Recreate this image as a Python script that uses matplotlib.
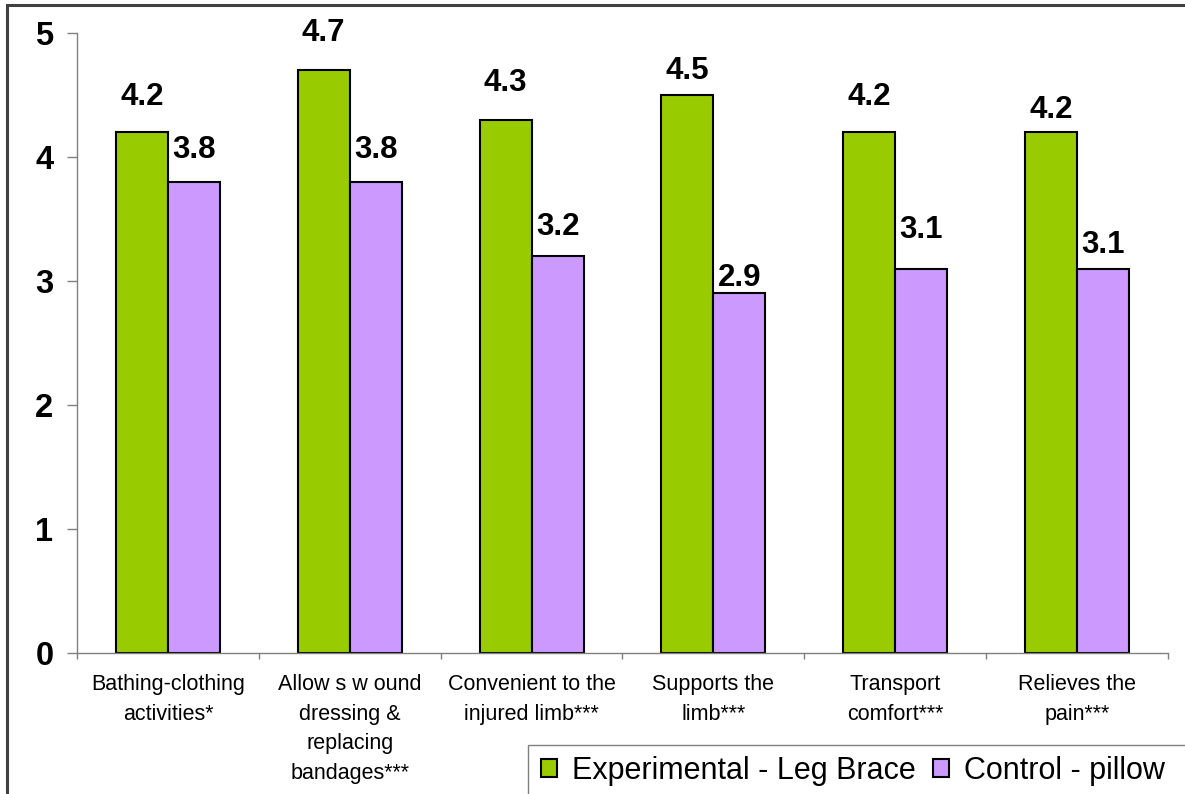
import matplotlib
matplotlib.use("Agg")
import matplotlib.pyplot as plt
from matplotlib.patches import Rectangle, Patch
import numpy as np

plt.rcParams['font.family'] = ['Liberation Sans', 'DejaVu Sans']

# Data
categories = [
    "Bathing-clothing\nactivities*",
    "Allow s w ound\ndressing &\nreplacing\nbandages***",
    "Convenient to the\ninjured limb***",
    "Supports the\nlimb***",
    "Transport\ncomfort***",
    "Relieves the\npain***",
]
brace = [4.2, 4.7, 4.3, 4.5, 4.2, 4.2]
pillow = [3.8, 3.8, 3.2, 2.9, 3.1, 3.1]
series_names = ["Experimental - Leg Brace", "Control - pillow"]
y_ticks = [0, 1, 2, 3, 4, 5]

green = "#99CC00"
purple = "#CC99FF"
axis_grey = "#808080"

W, H = 1185, 794
fig = plt.figure(figsize=(W / 100, H / 100), dpi=100)
ax = fig.add_axes([77 / W, 1 - 653 / H, (1168 - 77) / W, (653 - 33) / H])

x = np.arange(len(categories))
bw = 0.286
b1 = ax.bar(x - bw / 2, brace, bw, color=green, edgecolor="black", linewidth=1.5)
b2 = ax.bar(x + bw / 2, pillow, bw, color=purple, edgecolor="black", linewidth=1.5)

# value labels, gap above each bar in pixels (labels sit a little unevenly)
gap_brace = [20, 22, 22, 9, 20, 7]
gap_pillow = [17, 17, 14, 0, 24, 9]
for bars, vals, gaps in [(b1, brace, gap_brace), (b2, pillow, gap_pillow)]:
    for rect, v, g in zip(bars, vals, gaps):
        ax.annotate(f"{v:.1f}", (rect.get_x() + rect.get_width() / 2, v),
                    xytext=(0, g * 0.72), textcoords="offset points",
                    ha="center", va="bottom", fontsize=22.5, fontweight="bold")

ax.set_xlim(-0.5, len(categories) - 0.5)
ax.set_ylim(0, 5)
ax.set_yticks(y_ticks)
ax.set_yticklabels([str(t) for t in y_ticks], fontsize=23.5, fontweight="bold")
ax.tick_params(axis="y", direction="out", length=7, width=1, color=axis_grey, pad=10)

ax.set_xticks(x)
ax.set_xticklabels(categories, fontsize=15.5, linespacing=1.55)
ax.set_xticks(np.arange(len(categories) + 1) - 0.5, minor=True)
ax.tick_params(axis="x", which="major", length=0, pad=15)
ax.tick_params(axis="x", which="minor", direction="out", length=4.5, width=1, color=axis_grey)

for s in ["top", "right"]:
    ax.spines[s].set_visible(False)
for s in ["left", "bottom"]:
    ax.spines[s].set_color(axis_grey)
    ax.spines[s].set_linewidth(1)

# outer chart frame (runs off the right and bottom edges)
fig.patches.append(Rectangle((7 / W, -0.1), 1.5, 1.1 - 5 / H, transform=fig.transFigure,
                             fill=False, edgecolor="#404040", linewidth=2.2))
# legend frame
fig.patches.append(Rectangle((528 / W, -0.1), 1.0, 0.1 + 1 - 745 / H, transform=fig.transFigure,
                             fill=False, edgecolor=axis_grey, linewidth=1))

handles = [Patch(facecolor=green, edgecolor="black", linewidth=1.5),
           Patch(facecolor=purple, edgecolor="black", linewidth=1.5)]
fig.legend(handles, series_names, loc="center left", bbox_to_anchor=(541 / W, 1 - 771 / H),
           ncol=2, frameon=False, fontsize=22, handlelength=0.52, handleheight=0.52,
           handletextpad=0.5, columnspacing=0.55, borderpad=0, borderaxespad=0)

fig.savefig("out.png", dpi=100)
